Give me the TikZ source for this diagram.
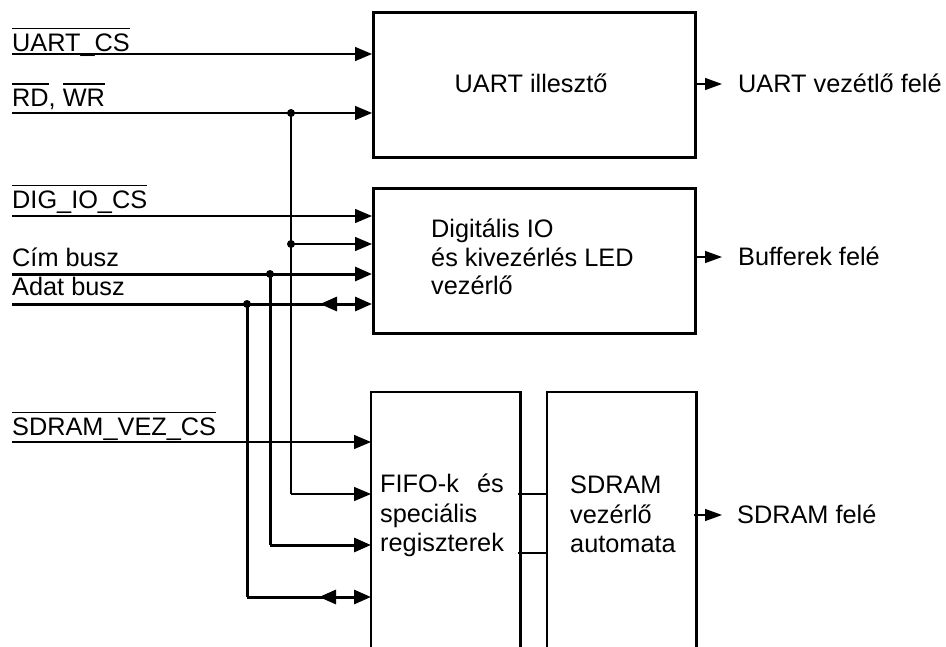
\documentclass[tikz,border=0pt]{standalone}
\usepackage{fontspec}
\setmainfont{Liberation Sans}
\usetikzlibrary{arrows.meta}
\newcommand\ovl[1]{\leavevmode\vbox{\hrule height 1.6pt\kern 4pt\hbox{#1}}}
\begin{document}
\begin{tikzpicture}[x=1pt,y=-1pt,
  txt/.style={font=\fontsize{25.3}{29}\selectfont, inner sep=0pt, anchor=base west},
  blk/.style={line width=2.6pt, inner sep=0pt, minimum width=#1, anchor=north west},
  sig/.style={line width=1.4pt},
  bus/.style={line width=3pt},
  link/.style={line width=2.5pt},
  tip/.style={-{Triangle[length=17pt,width=14pt]}},
  otip/.style={-{Triangle[length=17pt,width=12pt]}},
  jdot/.style={circle, fill, inner sep=0pt, minimum size=8pt},
]
\useasboundingbox (0,0) rectangle (946,646);

% blocks
\node[blk=322pt, draw, minimum height=145pt] (uart) at (372,11) {};
\node[blk=322pt, draw, minimum height=145pt] (dig) at (372,187) {};
\node[blk=147pt, minimum height=254pt] (fifo) at (371,392) {};
\node[blk=147pt, minimum height=254pt] (sdr) at (547,392) {};
\draw[line width=2.6pt] (fifo.south west) |- (fifo.north east) -- (fifo.south east);
\draw[line width=2.6pt] (sdr.south west) |- (sdr.north east) -- (sdr.south east);

% block texts
\node[txt, anchor=base] (tu) at (531,92) {UART illesztő};
\node[txt] (td1) at (431,237) {Digitális IO};
\node[txt] (td2) at (431,266) {és kivezérlés LED};
\node[txt] (td3) at (431,294) {vezérlő};
\node[txt] (tf1) at (380,492) {FIFO-k\ \ \,és};
\node[txt] (tf2) at (380,522) {speciális};
\node[txt] (tf3) at (380,551) {regiszterek};
\node[txt] (ts1) at (570,493) {SDRAM};
\node[txt] (ts2) at (570,523) {vezérlő};
\node[txt] (ts3) at (570,552) {automata};

% input labels
\node[txt] (l1) at (12,51) {\ovl{UART\_CS}};
\node[txt] (l2) at (12,106) {\ovl{RD}, \ovl{WR}};
\node[txt] (l3) at (12,208) {\ovl{DIG\_IO\_CS}};
\node[txt] (l4) at (12,266) {Cím busz};
\node[txt] (l5) at (12,295) {Adat busz};
\node[txt] (l6) at (12,435) {\ovl{SDRAM\_VEZ\_CS}};

% line start points
\coordinate (a1) at (12,54);
\coordinate (a2) at (12,113);
\coordinate (a3) at (12,216);
\coordinate (a4) at (12,274);
\coordinate (a5) at (12,304);
\coordinate (a6) at (12,442);

% junctions
\node[jdot] (j1) at (291,113) {};
\node[jdot] (j2) at (291,244) {};
\node[jdot] (j3) at (270,274) {};
\node[jdot] (j4) at (247,304) {};
\coordinate (b1) at (291,494);
\coordinate (b2) at (270,545);
\coordinate (b3) at (247,597);

% signals into UART
\draw[sig, tip] (a1) -- (a1 -| uart.west);
\draw[sig, tip] (a2) -- (a2 -| uart.west);
% into DIG
\draw[sig, tip] (a3) -- (a3 -| dig.west);
\draw[sig, tip] (j2.center) -- (j2 -| dig.west);
\draw[bus, tip] (a4) -- (a4 -| dig.west);
\draw[bus, tip] (a5) -- (a5 -| dig.west);
\draw[bus, tip] ([xshift=-35pt]a5 -| dig.west) -- ++(-17,0);
% vertical distribution
\draw[sig] (j1.center) -- (b1);
\draw[sig, tip] (b1) -- (b1 -| fifo.west);
\draw[bus] (j3.center) -- (b2);
\draw[bus, tip] (b2) -- (b2 -| fifo.west);
\draw[bus] (j4.center) -- (b3);
\draw[bus, tip] (b3) -- (b3 -| fifo.west);
\draw[bus, tip] ([xshift=-35pt]b3 -| fifo.west) -- ++(-17,0);
% SDRAM_VEZ_CS
\draw[sig, tip] (a6) -- (a6 -| fifo.west);

% links between FIFO and SDRAM controller
\coordinate (k1) at (518,494);
\coordinate (k2) at (518,553);
\draw[link] (k1) -- (k1 -| sdr.west);
\draw[link] (k2) -- (k2 -| sdr.west);

% outputs
\node[txt] (o1) at (738,92) {UART vezétlő felé};
\node[txt] (o2) at (738,265) {Bufferek felé};
\node[txt] (o3) at (737,523) {SDRAM felé};
\coordinate (e1) at (694,84);
\coordinate (e2) at (694,257);
\coordinate (e3) at (694,515);
\draw[sig, otip] (e1) -- ++(28,0);
\draw[sig, otip] (e2) -- ++(28,0);
\draw[sig, otip] (e3) -- ++(28,0);
\end{tikzpicture}
\end{document}
